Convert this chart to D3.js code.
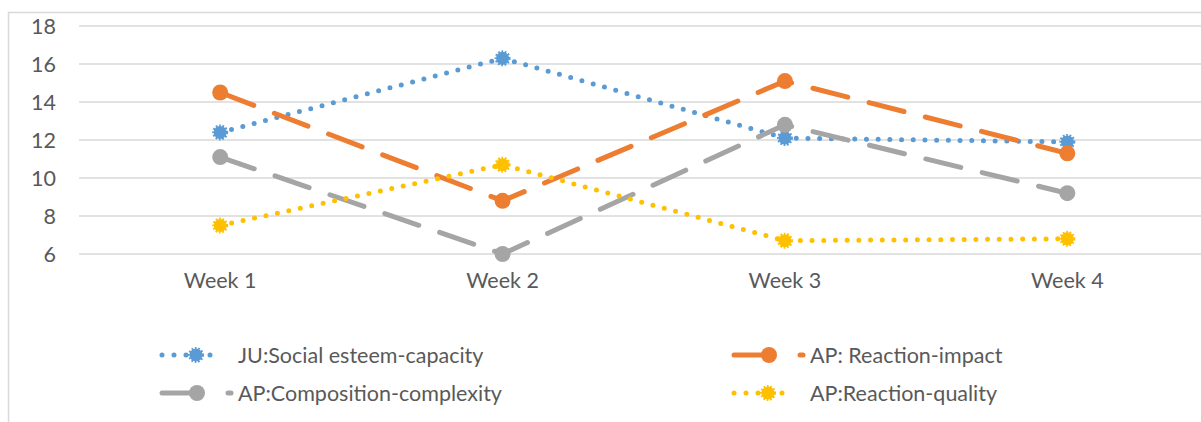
<!DOCTYPE html>
<html><head><meta charset="utf-8">
<script src="https://cdn.jsdelivr.net/npm/d3@7"></script>
<style>
html,body{margin:0;padding:0;background:#fff;}
svg{display:block;}
text{font-family:Lato,"Open Sans",sans-serif;fill:#595959;}
</style></head><body>
<svg id="c" width="1201" height="422"></svg>
<script>
const categories = ["Week 1","Week 2","Week 3","Week 4"];
const yTicks = [6,8,10,12,14,16,18];
const seriesNames = ["JU:Social esteem-capacity","AP: Reaction-impact","AP:Composition-complexity","AP:Reaction-quality"];
const socialEsteem = [12.4, 16.3, 12.1, 11.9];
const reactionImpact = [14.5, 8.8, 15.1, 11.3];
const compositionComplexity = [11.1, 6.0, 12.8, 9.2];
const reactionQuality = [7.5, 10.7, 6.7, 6.8];

const styles = [
  {color:"#5B9BD5", dash:"0,11.7", width:5, spiky:true},
  {color:"#ED7D31", dash:"36,22", width:5, spiky:false},
  {color:"#A5A5A5", dash:"36,22", width:5, spiky:false},
  {color:"#FFC000", dash:"0,11.7", width:5, spiky:true}
];
const series = [socialEsteem, reactionImpact, compositionComplexity, reactionQuality]
  .map((v,i)=>({name:seriesNames[i], values:v, ...styles[i]}));

const FS = "21.5px";
const svg = d3.select("#c");
svg.append("path").attr("d","M8.5,422 V12.5 H1201").attr("fill","none").attr("stroke","#d9d9d9").attr("stroke-width",1.5);

const x = d3.scaleBand().domain(categories).range([79, 1208.5]).padding(0);
const y = d3.scaleLinear().domain([6,18]).range([254,26]);

svg.append("g").selectAll("line").data(yTicks).join("line")
  .attr("x1",79).attr("x2",1201).attr("y1",d=>y(d)).attr("y2",d=>y(d))
  .attr("stroke","#d9d9d9").attr("stroke-width",1.5);

const yAxis = d3.axisLeft(y).tickValues(yTicks).tickSize(0).tickPadding(0);
const gy = svg.append("g").attr("transform","translate(56,0)").call(yAxis);
gy.select(".domain").remove();
gy.selectAll("text").style("font-size",FS).style("font-family","Lato,sans-serif").attr("fill","#595959").attr("dy","0.35em");

const xAxis = d3.axisBottom(x).tickSize(0).tickPadding(0);
const gx = svg.append("g").attr("transform","translate(0,273)").call(xAxis);
gx.select(".domain").remove();
gx.selectAll("text").style("font-size",FS).style("font-family","Lato,sans-serif").attr("fill","#595959").attr("dy","0.71em");

const cx = d => x(d) + x.bandwidth()/2;
const line = d3.line().x((d,i)=>cx(categories[i])).y(d=>y(d));

function marker(g, px, py, s, r){
  if (s.spiky){
    g.append("circle").attr("cx",px).attr("cy",py).attr("r",r-1.5)
      .attr("fill",s.color).attr("stroke",s.color).attr("stroke-width",3)
      .attr("stroke-dasharray","1.6,1.6");
  } else {
    g.append("circle").attr("cx",px).attr("cy",py).attr("r",r).attr("fill",s.color);
  }
}

series.forEach(s=>{
  const g = svg.append("g");
  g.append("path").datum(s.values).attr("d",line).attr("fill","none")
    .attr("stroke",s.color).attr("stroke-width",s.width)
    .attr("stroke-dasharray",s.dash).attr("stroke-linecap","round");
  s.values.forEach((v,i)=>marker(g, cx(categories[i]), y(v), s, 8));
});

const legendPos = [
  {x:160, y:355}, {x:732, y:355}, {x:160, y:393}, {x:732, y:393}
];
series.forEach((s,i)=>{
  const p = legendPos[i];
  const g = svg.append("g");
  if (s.spiky){
    g.append("line").attr("x1",p.x+2).attr("x2",p.x+62).attr("y1",p.y).attr("y2",p.y)
      .attr("stroke",s.color).attr("stroke-width",s.width).attr("stroke-dasharray","0,12")
      .attr("stroke-linecap","round");
    marker(g, p.x+36, p.y, s, 8);
  } else {
    g.append("line").attr("x1",p.x+2).attr("x2",p.x+36).attr("y1",p.y).attr("y2",p.y)
      .attr("stroke",s.color).attr("stroke-width",s.width).attr("stroke-linecap","round");
    marker(g, p.x+37, p.y, s, 8);
    g.append("line").attr("x1",p.x+68).attr("x2",p.x+71).attr("y1",p.y).attr("y2",p.y)
      .attr("stroke",s.color).attr("stroke-width",s.width).attr("stroke-linecap","round");
  }
  g.append("text").attr("x",p.x+78).attr("y",p.y).attr("dy","0.35em")
    .style("font-size",FS).text(s.name);
});
</script>
</body></html>
